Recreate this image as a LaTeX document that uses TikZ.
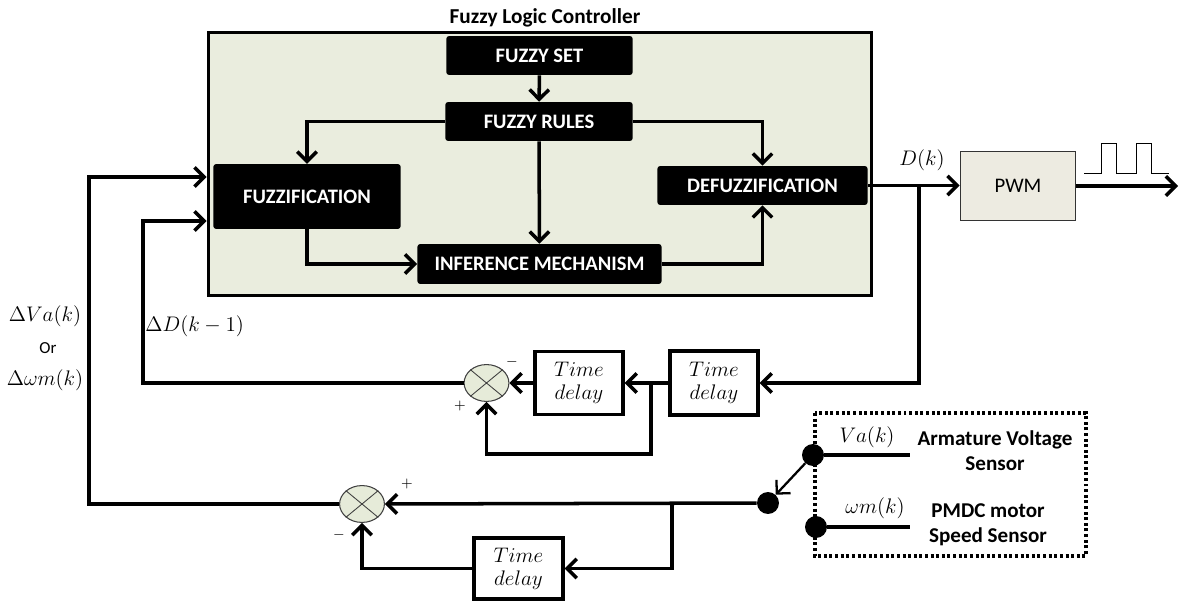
\documentclass[tikz,border=0pt]{standalone}
\usepackage{fontspec}
\setmainfont{Carlito}
\usetikzlibrary{arrows.meta,shapes.geometric,calc}
\definecolor{ctlbg}{HTML}{EAEDDE}
\definecolor{sumbg}{HTML}{E6EBD9}
\definecolor{pwmbg}{HTML}{EDEBE1}
\tikzset{
  conn/.style={line width=2pt},
  >={Straight Barb[length=5.5pt,width=11pt]},
  sz/.style 2 args={minimum width=#1*0.5669pt, minimum height=#2*0.5669pt},
  blk/.style={fill=black, text=white, inner sep=0pt, rounded corners=1.5pt,
    font=\bfseries\fontsize{11.7}{13}\selectfont},
  flcbox/.style={draw, line width=2pt, fill=ctlbg, inner sep=0pt},
  tdbox/.style={draw, line width=2pt, fill=white, inner sep=0pt, align=center,
    font=\fontsize{12.2}{13}\selectfont},
  sumj/.style={ellipse, draw=black!75, fill=sumbg, line width=0.6pt, inner sep=0pt,
    minimum width=45*0.5669pt, minimum height=37*0.5669pt},
  bdot/.style={circle, fill=black, inner sep=0pt, minimum size=12.5pt},
  mlab/.style={font=\fontsize{11.5}{13}\selectfont, inner sep=0pt},
  pm/.style={font=\fontsize{8}{9}\selectfont, inner sep=0pt},
  sens/.style={font=\bfseries\fontsize{12}{14.2}\selectfont, align=center, inner sep=0pt},
}
\begin{document}
\begin{tikzpicture}[x=0.02cm,y=-0.02cm]
\useasboundingbox (0,0) rectangle (1181,601);

% Fuzzy logic controller
\node[font=\bfseries\fontsize{12.1}{13}\selectfont, inner sep=0pt] (title) at (545,18) {Fuzzy Logic Controller};
\node[flcbox, sz={666}{264}] (flc) at (540,164) {};

\node[blk, sz={187}{39}] (fset) at (539.5,55.5) {FUZZY SET};
\node[blk, sz={188}{39}] (frules) at (539,121.5) {FUZZY RULES};
\node[blk, sz={188}{65}] (fuzz) at (307,196.5) {FUZZIFICATION};
\node[blk, sz={245}{40}] (inf) at (539.5,264) {INFERENCE MECHANISM};
\node[blk, sz={211}{39}] (defuzz) at (762.5,185.5) {DEFUZZIFICATION};

\draw[conn,->] (fset) -- (frules);
\draw[conn,->] (frules.west) -| (fuzz.north);
\draw[conn,->] (frules) -- (inf);
\draw[conn,->] (fuzz.south) |- (inf.west);
\draw[conn,->] (frules.east) -| (defuzz.north);
\draw[conn,->] (inf.east) -| (defuzz.south);

% PWM
\node[draw=black!80, fill=pwmbg, line width=0.6pt, sz={116}{70},
  font=\fontsize{11.8}{13}\selectfont] (pwm) at (1018,186) {PWM};
\coordinate (out) at (1178,185.5);
\draw[conn,->] (defuzz.east) -- (defuzz.east -| pwm.west);
\draw[conn,->] (pwm.east) -- (pwm.east -| out);
\node[mlab] (dk) at (922,160) {$D(k)$};
\draw[line width=0.5pt] (1084,173) -- (1101,173) -- (1101,143) -- (1116,143) -- (1116,173)
  -- (1136,173) -- (1136,143) -- (1151,143) -- (1151,173) -- (1169,173);

% first feedback: D(k) -> delays -> sum1
\coordinate (br1) at (919,185.5);
\node[tdbox, sz={88}{64}] (td2) at (714,383) {$Time$\\$delay$};
\node[tdbox, sz={88}{63}] (td1) at (579,383) {$Time$\\$delay$};
\node[sumj] (sum1) at (486.5,383) {};
\draw[line width=0.5pt, black!75] (sum1.north west) -- (sum1.south east)
  (sum1.north east) -- (sum1.south west);
\draw[conn,->] (br1) |- (td2.east);
\draw[conn,->] (td2.west) -- (td1.east);
\coordinate (br2) at (651,383);
\draw[conn,->] (br2) -- (651,454) -| (sum1.south);
\draw[conn,->] (td1.west) -- (sum1.east);
\coordinate (in2) at (flc.west |- 0,221);
\draw[conn,->] (sum1.west) -| (143,221) -- (in2);
\node[mlab, anchor=west] (dd) at (145,326) {$\Delta D(k-1)$};
\node[pm] (m1) at (512,362) {$-$};
\node[pm] (p1) at (460,406) {$+$};

% sensor block
\draw[line width=1.9pt, dash pattern=on 1.7pt off 1.5pt] (815,413) rectangle (1086,556);
\node[bdot] (dot1) at (813,455) {};
\node[bdot] (dot2) at (816,527) {};
\coordinate (s1) at (910,455);
\coordinate (s2) at (910,527);
\draw[conn] (dot1) -- (s1);
\draw[conn] (dot2) -- (s2);
\node[mlab] (va) at (867,437) {$Va(k)$};
\node[mlab] (wm) at (875,508) {$\omega m(k)$};
\node[sens] (avs) at (995,451) {Armature Voltage\\Sensor};
\node[sens] (pmdc) at (988,525) {PMDC motor\\Speed Sensor};

% second feedback: sensor -> sum2
\node[bdot] (dot3) at (768,503) {};
\draw[line width=1.3pt,->] (dot1) -- (dot3);
\node[sumj] (sum2) at (362,504) {};
\draw[line width=0.5pt, black!75] (sum2.north west) -- (sum2.south east)
  (sum2.north east) -- (sum2.south west);
\draw[conn,->] (dot3) -- (sum2.east);
\coordinate (br3) at (672,504);
\node[tdbox, sz={89}{61}] (td3) at (518.5,568.5) {$Time$\\$delay$};
\draw[conn,->] (br3) |- (td3.east);
\draw[conn,->] (td3.west) -| (sum2.south);
\coordinate (in1) at (flc.west |- 0,177);
\draw[conn,->] (sum2.west) -| (89,177) -- (in1);
\node[pm] (p2) at (407,484) {$+$};
\node[pm] (m2) at (339,535) {$-$};

\node[mlab] (dva) at (45,316) {$\Delta Va(k)$};
\node[font=\fontsize{9.6}{11}\selectfont, inner sep=0pt] (or) at (48,348) {Or};
\node[mlab] (dwm) at (45,380) {$\Delta\omega m(k)$};
\end{tikzpicture}
\end{document}
